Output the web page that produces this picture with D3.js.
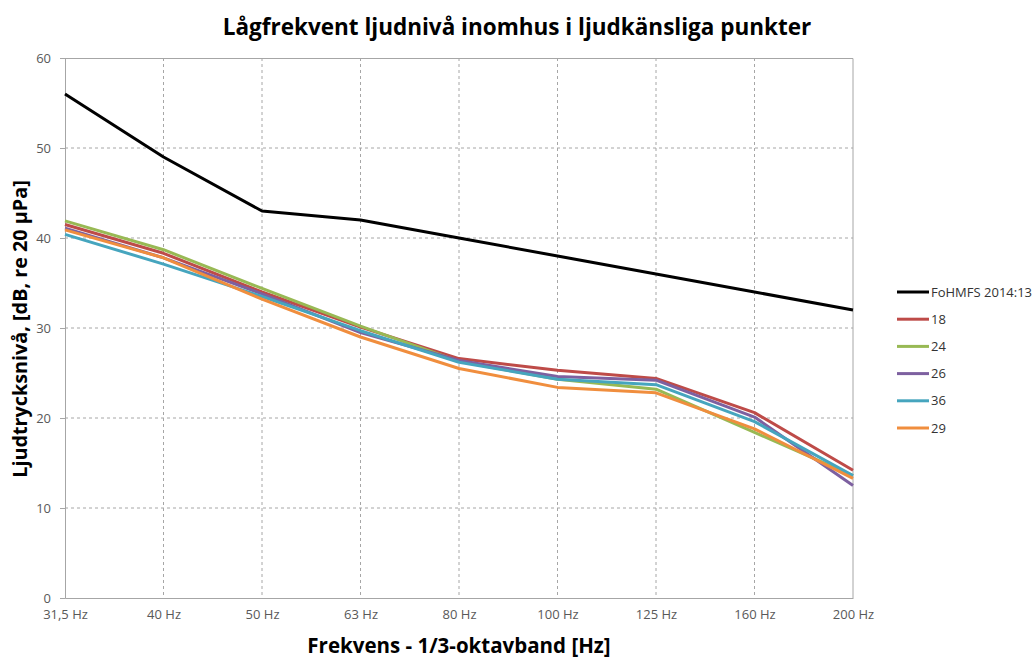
<!DOCTYPE html>
<html>
<head>
<meta charset="utf-8">
<script src="https://cdn.jsdelivr.net/npm/d3@7"></script>
<style>
  body { margin: 0; background: #fff; }
  text { font-family: "Open Sans", "Liberation Sans", sans-serif; }
</style>
</head>
<body>
<div id="chart"></div>
<script>
var width = 1035,
    height = 658

// frequency bands (1/3 octave)
var bands = ['31,5 Hz', '40 Hz', '50 Hz', '63 Hz', '80 Hz', '100 Hz', '125 Hz', '160 Hz', '200 Hz']
var yTicks = [0, 10, 20, 30, 40, 50, 60]

var seriesNames = ['FoHMFS 2014:13', '18', '24', '26', '36', '29']
var seriesColors = ['#000000', '#be4b48', '#98b954', '#7d60a0', '#46a5be', '#f08e3e']

var fohmfs = [56, 49, 43, 42, 40, 38, 36, 34, 32]
var p18 = [41.5, 38.3, 34.0, 30.1, 26.6, 25.3, 24.4, 20.6, 14.2]
var p24 = [41.9, 38.7, 34.4, 30.2, 26.3, 24.3, 23.2, 18.4, 13.6]
var p26 = [41.1, 37.8, 33.8, 29.5, 26.4, 24.6, 24.2, 20.1, 12.5]
var p36 = [40.4, 37.1, 33.5, 29.7, 26.2, 24.3, 23.7, 19.6, 13.6]
var p29 = [40.9, 37.8, 33.2, 29.0, 25.5, 23.4, 22.8, 18.8, 13.3]

var allSeries = [fohmfs, p18, p24, p26, p36, p29]

var margin = {left: 65, right: 1035 - 853, top: 58, bottom: 658 - 598}
var plotW = width - margin.left - margin.right,
    plotH = height - margin.top - margin.bottom

var svg = d3.select('#chart')
  .append('svg')
  .attr('width', width)
  .attr('height', height)

var g = svg.append('g')
  .attr('transform', 'translate(' + margin.left + ',' + margin.top + ')')

var x = d3.scalePoint().domain(bands).range([0, plotW])
var y = d3.scaleLinear().domain([0, 60]).range([plotH, 0])

// grid
g.selectAll('.hgrid')
  .data(yTicks.filter(d => d > 0 && d < 60))
  .enter().append('line')
  .attr('x1', 0).attr('x2', plotW)
  .attr('y1', d => y(d)).attr('y2', d => y(d))
  .attr('stroke', '#a6a6a6')
  .attr('stroke-dasharray', '3,3')

g.selectAll('.vgrid')
  .data(bands.slice(1, -1))
  .enter().append('line')
  .attr('x1', d => x(d)).attr('x2', d => x(d))
  .attr('y1', 0).attr('y2', plotH)
  .attr('stroke', '#a6a6a6')
  .attr('stroke-dasharray', '3,3')

// plot border top/right
g.append('path')
  .attr('d', 'M0,0.5H' + plotW + 'V' + plotH)
  .attr('fill', 'none')
  .attr('stroke', '#a6a6a6')

// axes
var yAxis = d3.axisLeft(y).tickValues(yTicks).tickSize(5).tickPadding(9)
var gy = g.append('g').call(yAxis)
gy.select('.domain').attr('stroke', '#a6a6a6')
gy.selectAll('.tick line').attr('stroke', '#a6a6a6')
gy.selectAll('text').attr('fill', '#595959').style('font-size', '13px')

var xAxis = d3.axisBottom(x).tickSize(0).tickPadding(12)
var gx = g.append('g').attr('transform', 'translate(0,' + plotH + ')').call(xAxis)
gx.select('.domain').attr('stroke', '#a6a6a6')
gx.selectAll('text').attr('fill', '#595959').style('font-size', '13px')

// lines
var line = d3.line()
  .x((d, i) => x(bands[i]))
  .y(d => y(d))

allSeries.forEach(function (s, i) {
  g.append('path')
    .datum(s)
    .attr('fill', 'none')
    .attr('stroke', seriesColors[i])
    .attr('stroke-width', 3)
    .attr('stroke-linejoin', 'round')
    .attr('d', line)
})

// legend
var legend = svg.append('g').attr('transform', 'translate(897,292)')
seriesNames.forEach(function (name, i) {
  var row = legend.append('g').attr('transform', 'translate(0,' + (i * 27.2) + ')')
  row.append('line')
    .attr('x1', 0).attr('x2', 32)
    .attr('stroke', seriesColors[i])
    .attr('stroke-width', 3)
  row.append('text')
    .attr('x', 34).attr('dy', '0.35em')
    .attr('fill', '#333')
    .style('font-size', '13px')
    .text(name)
})

// titles
svg.append('text')
  .attr('x', 517).attr('y', 35)
  .attr('text-anchor', 'middle')
  .style('font-size', '22.5px').style('font-weight', 'bold')
  .text('Lågfrekvent ljudnivå inomhus i ljudkänsliga punkter')

svg.append('text')
  .attr('x', 459).attr('y', 653)
  .attr('text-anchor', 'middle')
  .style('font-size', '20.5px').style('font-weight', 'bold')
  .text('Frekvens - 1/3-oktavband [Hz]')

svg.append('text')
  .attr('transform', 'translate(27,329) rotate(-90)')
  .attr('text-anchor', 'middle')
  .style('font-size', '19.8px').style('font-weight', 'bold')
  .text('Ljudtrycksnivå, [dB, re 20 µPa]')
</script>
</body>
</html>
